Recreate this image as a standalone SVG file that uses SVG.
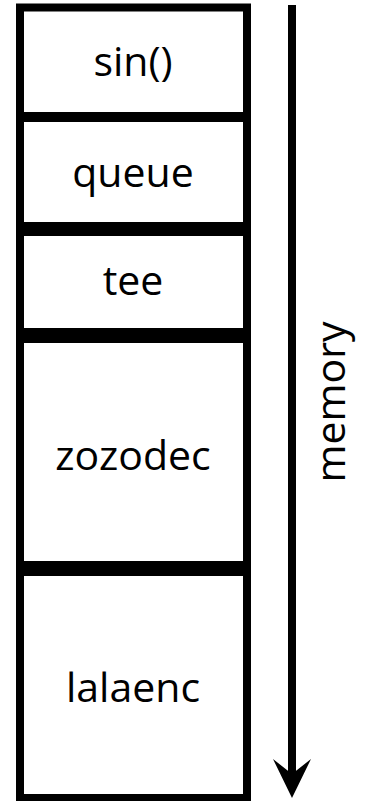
<svg xmlns="http://www.w3.org/2000/svg" width="372" height="801" viewBox="0 0 372 801">
  <style>
    .box { fill: #ffffff; stroke: #000000; stroke-width: 8; }
    .label { font-family: "Open Sans", "Liberation Sans", sans-serif; font-size: 41px; fill: #000000; text-anchor: middle; }
    .axis { stroke: #000000; stroke-width: 8; fill: none; }
    .head { fill: #000000; }
  </style>

  <rect width="372" height="801" fill="#ffffff"/>

  <!-- memory stack, top to bottom -->
  <g id="node-sin">
    <rect class="box" x="20" y="7.5" width="227" height="108.5"/>
    <text class="label" x="133" y="76">sin()</text>
  </g>
  <g id="node-queue">
    <rect class="box" x="20" y="118" width="227" height="108"/>
    <text class="label" x="133" y="187">queue</text>
  </g>
  <g id="node-tee">
    <rect class="box" x="20" y="232" width="227" height="100"/>
    <text class="label" x="133" y="295">tee</text>
  </g>
  <g id="node-zozodec">
    <rect class="box" x="20" y="339" width="227" height="226"/>
    <text class="label" x="133" y="470">zozodec</text>
  </g>
  <g id="node-lalaenc">
    <rect class="box" x="20" y="572" width="227" height="226"/>
    <text class="label" x="133" y="702">lalaenc</text>
  </g>

  <!-- downward memory axis -->
  <g id="connectors">
    <line class="axis" x1="292" y1="5" x2="292" y2="774"/>
    <path class="head" d="M273,759 L292,798 L311,759 L292,774 Z"/>
    <text class="label" transform="translate(345,402) rotate(-90)" x="0" y="0">memory</text>
  </g>
</svg>
